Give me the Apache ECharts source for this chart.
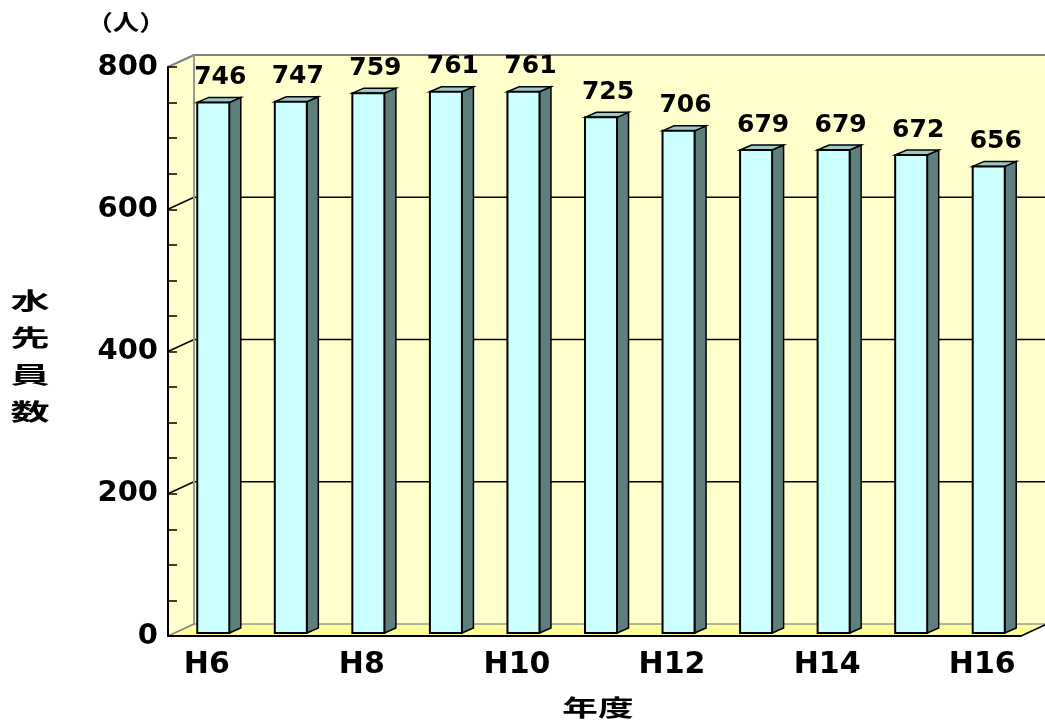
<!DOCTYPE html>
<html>
<head>
<meta charset="utf-8">
<script src="https://cdn.jsdelivr.net/npm/echarts@6/dist/echarts.min.js"></script>
<style>
  html, body { margin: 0; padding: 0; background: #fff; }
  #chart { width: 1045px; height: 726px; }
</style>
</head>
<body>
<div id="chart"></div>
<script>
// 水先員数の推移
var categories = ['H6', 'H7', 'H8', 'H9', 'H10', 'H11', 'H12', 'H13', 'H14', 'H15', 'H16'];
var pilots = [746, 747, 759, 761, 761, 725, 706, 679, 679, 672, 656];
var yMax = 800;
var yStep = 200;

// 奥行き (3D風)
var DX = 26, DY = -12;
var FONT = '"DejaVu Sans", "Noto Sans CJK JP", sans-serif';
var CJK = '"Noto Sans CJK JP", sans-serif';

function line(x1, y1, x2, y2, color, width) {
  return {
    type: 'line',
    shape: { x1: x1, y1: y1, x2: x2, y2: y2 },
    style: { stroke: color, lineWidth: width }
  };
}

function poly(points, fill, stroke, width) {
  return {
    type: 'polygon',
    shape: { points: points },
    style: { fill: fill, stroke: stroke || null, lineWidth: width || 0 }
  };
}

function renderBackground(params, api) {
  var cs = params.coordSys;
  var x0 = cs.x, x1 = cs.x + cs.width;
  var yb = api.coord([0, 0])[1];
  var yt = api.coord([0, yMax])[1];
  var kids = [];
  // 奥の壁・左の壁・床
  kids.push(poly([[x0 + DX, yt + DY], [x1 + DX, yt + DY], [x1 + DX, yb + DY], [x0 + DX, yb + DY]], '#FFFFCC'));
  kids.push(poly([[x0, yt], [x0 + DX, yt + DY], [x0 + DX, yb + DY], [x0, yb]], '#FFFFCC'));
  kids.push(poly([[x0, yb], [x1, yb], [x1 + DX, yb + DY], [x0 + DX, yb + DY]], '#FFFF99'));
  // 目盛線
  for (var v = yStep; v < yMax; v += yStep) {
    var y = api.coord([0, v])[1];
    kids.push(line(x0 + DX, y + DY, x1 + DX, y + DY, '#000', 1.5));
    kids.push(line(x0, y, x0 + DX, y + DY, '#000', 1.5));
  }
  kids.push(line(x0 + DX, yt + DY, x1 + DX, yt + DY, '#808080', 2));
  kids.push(line(x0, yt, x0 + DX, yt + DY, '#808080', 2));
  kids.push(line(x0 + DX, yt + DY, x0 + DX, yb + DY, '#999', 2));
  kids.push(line(x0 + DX, yb + DY, x1 + DX, yb + DY, '#999', 1.5));
  kids.push(line(x0, yb, x0 + DX, yb + DY, '#808080', 1.5));
  kids.push(line(x1, yb, x1 + DX, yb + DY, '#000', 1.5));
  return { type: 'group', children: kids };
}

function renderBar(params, api) {
  var i = api.value(0), v = api.value(1);
  var base = api.coord([i, 0]);
  var top = api.coord([i, v]);
  var band = api.size([1, 0])[0];
  var w = band * 0.413;
  var bdx = 11.5, bdy = -5;
  var fx = base[0] - w / 2 + DX * 0.25;
  var by = base[1] + DY * 0.25;
  var ty = top[1] + DY * 0.25;
  return {
    type: 'group',
    children: [
      poly([[fx + w, ty], [fx + w + bdx, ty + bdy], [fx + w + bdx, by + bdy], [fx + w, by]], '#5F7F7C', '#000', 1.5),
      poly([[fx, ty], [fx + bdx, ty + bdy], [fx + w + bdx, ty + bdy], [fx + w, ty]], '#99C9C9', '#000', 1.5),
      {
        type: 'rect',
        shape: { x: fx, y: ty, width: w, height: by - ty },
        style: { fill: '#CCFFFF', stroke: '#000', lineWidth: 2 }
      },
      {
        type: 'text',
        style: {
          text: String(v),
          x: fx + w / 2 + 7,
          y: ty - 25,
          align: 'center',
          verticalAlign: 'middle',
          fill: '#000',
          font: 'bold 25px ' + FONT
        }
      }
    ]
  };
}

var chart = echarts.init(document.getElementById('chart'));
var option = {
  animation: false,
  backgroundColor: '#fff',
  grid: { left: 168, right: 24, top: 67, bottom: 90 },
  // 横長の文字 (単位・軸名)
  graphic: [
    {
      type: 'text', x: 126, y: 22, scaleX: 1.2,
      style: { text: '（人）', align: 'center', verticalAlign: 'middle', fill: '#000', font: 'bold 22px ' + CJK }
    },
    {
      type: 'text', x: 30, y: 356, scaleX: 1.7,
      style: { text: '水\n先\n員\n数', align: 'center', verticalAlign: 'middle', lineHeight: 37, fill: '#000', font: 'bold 23px ' + CJK }
    },
    {
      type: 'text', x: 598, y: 707, scaleX: 1.55,
      style: { text: '年度', align: 'center', verticalAlign: 'middle', fill: '#000', font: 'bold 23px ' + CJK }
    }
  ],
  xAxis: {
    type: 'category',
    data: categories,
    axisLine: { lineStyle: { color: '#000', width: 2 } },
    axisTick: { inside: true, length: 9, interval: 0, lineStyle: { color: '#000', width: 1.5 } },
    axisLabel: {
      interval: 1,
      margin: 14,
      fontFamily: FONT,
      fontWeight: 'bold',
      fontSize: 30,
      color: '#000'
    },
    splitLine: { show: false }
  },
  yAxis: {
    type: 'value',
    min: 0,
    max: yMax,
    interval: yStep,
    axisLine: { show: true, lineStyle: { color: '#000', width: 2 } },
    axisTick: { show: true, inside: true, length: 9, lineStyle: { color: '#000', width: 1.5 } },
    minorTick: { show: true, splitNumber: 4, length: 9, lineStyle: { color: '#000', width: 1.5 } },
    axisLabel: {
      margin: 10,
      fontFamily: FONT,
      fontWeight: 'bold',
      fontSize: 29,
      color: '#000'
    },
    splitLine: { show: false }
  },
  series: [
    {
      type: 'custom',
      z: -1,
      silent: true,
      renderItem: renderBackground,
      data: [[0, 0]]
    },
    {
      type: 'custom',
      z: 2,
      renderItem: renderBar,
      data: pilots.map(function (v, i) { return [i, v]; })
    }
  ]
};
chart.setOption(option);
</script>
</body>
</html>
